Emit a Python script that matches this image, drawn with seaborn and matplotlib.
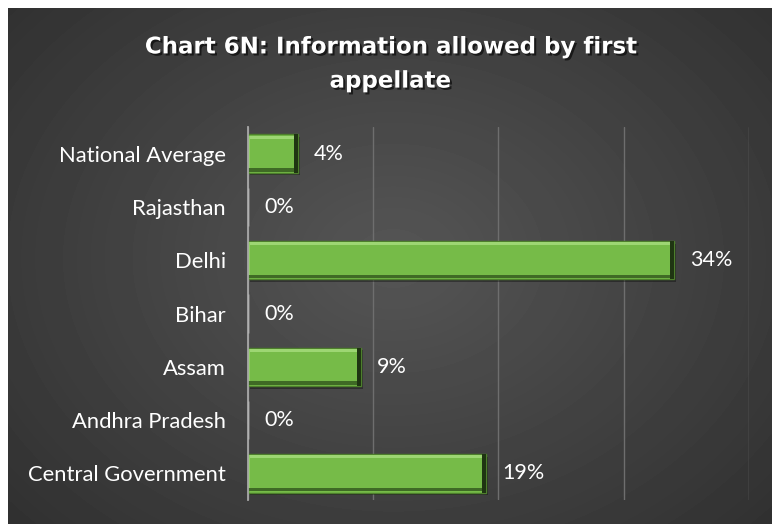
import numpy as np
import pandas as pd
import matplotlib
matplotlib.use("Agg")
import matplotlib.pyplot as plt
import matplotlib.patheffects as pe
import seaborn as sns
from matplotlib.patches import Rectangle

categories = ["National Average", "Rajasthan", "Delhi", "Bihar", "Assam",
              "Andhra Pradesh", "Central Government"]
values = [4, 0, 34, 0, 9, 0, 19]
value_labels = ["4%", "0%", "34%", "0%", "9%", "0%", "19%"]
title = "Chart 6N: Information allowed by first\nappellate"

sns.set_theme(style="dark")
plt.rcParams["font.family"] = ["Lato", "DejaVu Sans"]

W, H = 772, 524
fig = plt.figure(figsize=(W / 100, H / 100), dpi=100)
fig.patch.set_facecolor("white")

# background with radial gradient
bg = fig.add_axes([8 / W, 0, 1 - 8 / W, 1 - 8 / H])
ny, nx = H - 8, W - 8
yy, xx = np.mgrid[0:ny, 0:nx]
cx, cy = 385, 250
r = np.sqrt(((xx - cx) / 470) ** 2 + ((yy - cy) / 360) ** 2)
v = 0.335 - 0.165 * np.clip(r, 0, 1.25) / 1.25
bg.imshow(v, cmap="gray", vmin=0, vmax=1, aspect="auto", interpolation="bilinear")
bg.axis("off")

df = pd.DataFrame({"category": categories, "value": values})

ax = fig.add_axes([248 / W, 1 - 500 / H, (749 - 248) / W, (500 - 127) / H])
ax.patch.set_alpha(0)
sns.barplot(data=df, x="value", y="category", orient="h", color="#76bb48",
            saturation=1, width=0.72, ax=ax, zorder=3)

ax.set_xlim(0, 40)
ax.set_xticks([0, 10, 20, 30, 40])
ax.set_xticklabels([])
ax.grid(axis="x", color="#6e6e6e", linewidth=1.0, zorder=0)
ax.grid(axis="y", visible=False)
ax.set_xlabel("")
ax.set_ylabel("")
for s in ["top", "right", "bottom"]:
    ax.spines[s].set_visible(False)
ax.spines["left"].set_color("#a8a8a8")
ax.spines["left"].set_linewidth(1.3)
ax.spines["left"].set_zorder(5)
ax.tick_params(axis="both", length=0)
ax.tick_params(axis="y", colors="white", labelsize=15.8, pad=16)

# bevel styling derived from the seaborn bar patches
for p in list(ax.patches):
    x0, y0 = p.get_x(), p.get_y()
    w, h = p.get_width(), p.get_height()
    if w <= 0:
        continue
    p.set_edgecolor("#4d7f2c")
    p.set_linewidth(1.0)
    ax.add_patch(Rectangle((x0 + 0.15, y0 + 0.05), w, h, color="black",
                           alpha=0.35, zorder=2, linewidth=0))
    ax.add_patch(Rectangle((x0, y0 + 0.02), w - 0.3, 0.06, color="#9dd673",
                           zorder=4, linewidth=0))
    ax.add_patch(Rectangle((x0 + 0.03, y0 + 0.02), 0.12, h - 0.06, color="#93cc68",
                           zorder=4, linewidth=0))
    ax.add_patch(Rectangle((x0, y0 + h - 0.09), w, 0.07, color="#3f6a25",
                           zorder=4, linewidth=0))
    ax.add_patch(Rectangle((x0 + w - 0.32, y0), 0.32, h, color="#1f3512",
                           zorder=4, linewidth=0))

for i, (val, lab) in enumerate(zip(values, value_labels)):
    ax.annotate(lab, xy=(val, i), xytext=(16, 0), textcoords="offset pixels",
                ha="left", va="center", color="white", fontsize=15.5, zorder=6)

fig.text(390 / W, 1 - 64 / H, title, ha="center", va="center",
         multialignment="center", color="white", fontsize=16.5,
         fontweight="bold", linespacing=1.62, family=["DejaVu Sans"],
         path_effects=[pe.withSimplePatchShadow(offset=(1.5, -1.5),
                                                 shadow_rgbFace="black",
                                                 alpha=0.6)])

fig.savefig("out.png", dpi=100, facecolor=fig.get_facecolor())
